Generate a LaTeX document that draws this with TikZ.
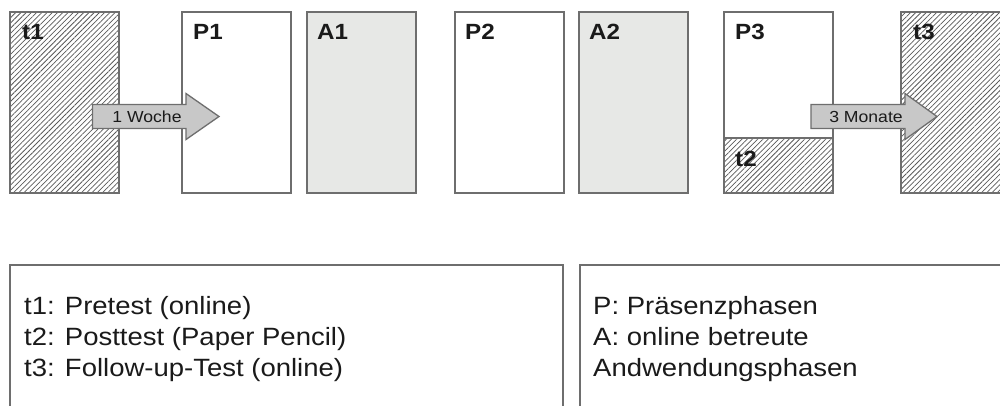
\documentclass[tikz,border=0pt]{standalone}
\usepackage{fontspec}
\setmainfont{Liberation Sans}[FakeStretch=1.1]
\usetikzlibrary{patterns.meta,calc}

\definecolor{edge}{HTML}{6E6E6E}
\definecolor{afill}{HTML}{E7E8E6}
\definecolor{arrowfill}{HTML}{C8C8C8}
\definecolor{hatch}{HTML}{5A5A5A}
\definecolor{ink}{HTML}{1A1A1A}

\tikzset{
  phasebox/.style={draw=edge, line width=1.3pt, minimum width=109pt,
    minimum height=181pt, anchor=north west, inner sep=0pt, outer sep=0pt},
  hatched/.style={pattern={Lines[angle=45,distance=3.7pt,line width=0.75pt]},
    pattern color=hatch},
  presence/.style={phasebox, fill=white},
  applied/.style={phasebox, fill=afill},
  testbox/.style={phasebox, hatched},
  boxlabel/.style={font=\bfseries\fontsize{22}{22}\selectfont, text=ink,
    inner sep=0pt, anchor=base west},
  gaparrow/.style={draw=edge, line width=1.3pt, fill=arrowfill, line join=miter},
  gaplabel/.style={font=\fontsize{16}{16}\selectfont, text=ink, inner sep=0pt},
  legendbox/.style={draw=edge, line width=1.3pt},
  legendtext/.style={font=\fontsize{25}{31}\selectfont, text=ink,
    inner sep=0pt, align=left, anchor=base west},
}

\begin{document}
\begin{tikzpicture}[x=1pt, y=-1pt]
  \useasboundingbox (0,0) rectangle (1000,405);

  % phase boxes along the time line
  \node[testbox]  (t1) at (10,12)  {};
  \node[presence] (p1) at (182,12) {};
  \node[applied]  (a1) at (307,12) {};
  \node[presence] (p2) at (455,12) {};
  \node[applied]  (a2) at (579,12) {};
  \node[presence] (p3) at (724,12) {};
  \node[testbox]  (t3) at (901,12) {};

  % post test occupies the lower part of the last presence phase
  \coordinate (t2nw) at ($(p3.south west)+(0,-55)$);
  \fill[hatched] (t2nw) rectangle (p3.south east);
  \draw[draw=edge, line width=1.3pt] (t2nw) -- ($(p3.south east)+(0,-55)$);
  \draw[draw=edge, line width=1.3pt] (p3.north west) rectangle (p3.south east);

  % box labels
  \node[boxlabel] (t1l) at ($(t1.north west)+(12,27)$) {t1};
  \node[boxlabel] (p1l) at ($(p1.north west)+(11,27)$) {P1};
  \node[boxlabel] (a1l) at ($(a1.north west)+(10,27)$) {A1};
  \node[boxlabel] (p2l) at ($(p2.north west)+(10,27)$) {P2};
  \node[boxlabel] (a2l) at ($(a2.north west)+(10,27)$) {A2};
  \node[boxlabel] (p3l) at ($(p3.north west)+(11,27)$) {P3};
  \node[boxlabel] (t2l) at ($(t2nw)+(11,28)$) {t2};
  \node[boxlabel] (t3l) at ($(t3.north west)+(12,27)$) {t3};

  % block arrows for the time gaps (tail centre points)
  \coordinate (w1) at ($(t1.east)+(-26.5,14)$);
  \draw[gaparrow] ($(w1)+(0,-12)$) -- ++(93.5,0) -- ++(0,-11) -- ++(33,23)
    -- ++(-33,23) -- ++(0,-11) -- ++(-93.5,0) -- cycle;
  \node[gaplabel] (w1l) at ($(w1)+(54.5,0)$) {1 Woche};

  \coordinate (m3) at ($(p3.east)+(-22,14)$);
  \draw[gaparrow] ($(m3)+(0,-12)$) -- ++(94,0) -- ++(0,-11) -- ++(32,23)
    -- ++(-32,23) -- ++(0,-11) -- ++(-94,0) -- cycle;
  \node[gaplabel] (m3l) at ($(m3)+(55,0)$) {3 Monate};

  % legends (anchored at the baseline of the last line)
  \draw[legendbox] (10,265) rectangle (563,420);
  \node[legendtext] (leg1) at (24,376)
    {t1: Pretest (online)\\t2: Posttest (Paper Pencil)\\t3: Follow-up-Test (online)};

  \draw[legendbox] (580,265) rectangle (1010,420);
  \node[legendtext] (leg2) at (593,376)
    {P: Präsenzphasen\\A: online betreute\\Andwendungsphasen};
\end{tikzpicture}
\end{document}
